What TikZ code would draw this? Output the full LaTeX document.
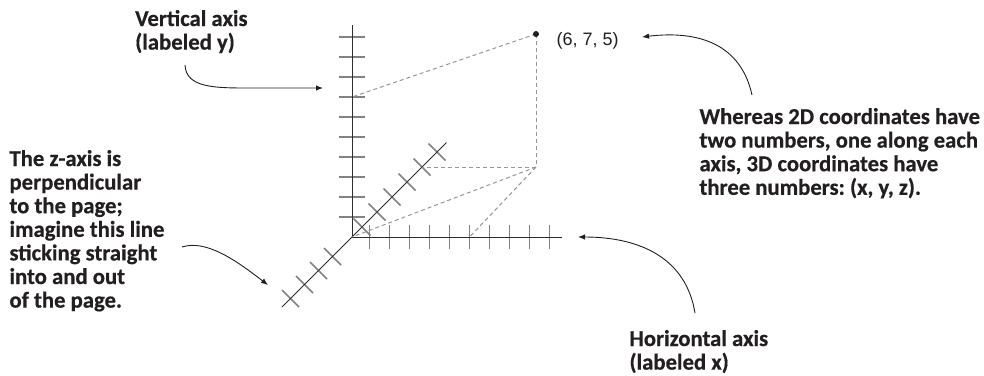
\documentclass[tikz,border=0pt]{standalone}
\usepackage{fontspec}
\setmainfont{Carlito}[BoldFeatures={FakeBold=0.5}]
\newfontfamily\coordfont{Liberation Sans}
\usetikzlibrary{arrows.meta}
\definecolor{ink}{RGB}{35,31,32}
\definecolor{axisc}{RGB}{45,45,45}
\definecolor{tickc}{RGB}{130,130,130}
\definecolor{dashc}{RGB}{150,150,150}
\frenchspacing
\newcommand{\blocktext}[1]{\parbox[t]{320bp}{\raggedright\fontsize{22.7bp}{23.6bp}\selectfont\bfseries #1}}
\begin{document}
\begin{tikzpicture}[x=1bp,y=-1bp,
  axisline/.style={draw=axisc, line width=1bp},
  tickline/.style={draw=tickc, line width=1.6bp},
  guide/.style={draw=dashc, line width=1bp, dash pattern=on 4bp off 3bp},
  callout/.style={draw=ink, line width=0.9bp, -{Latex[length=7bp,width=5.5bp]}},
  note/.style={anchor=base west, inner sep=0pt, text=ink}]
\useasboundingbox (0,0) rectangle (984,375);

% axis points
\coordinate (O) at (352,237);
\coordinate (ytop) at (352,25);
\coordinate (xend) at (562,237);
\coordinate (zlo) at (282,307);
\coordinate (zhi) at (446.5,142.5);

% ticks
\foreach \k in {1,...,10} {
  \draw[tickline] (339,{237-20*\k}) -- (365,{237-20*\k});
}
\foreach \k in {0,...,9} {
  \draw[tickline] ({369.5+20*\k},225) -- ({369.5+20*\k},249);
}
\foreach \t in {10,25,40,55,70,85,-19.5,-33.5,-47.5,-61.5} {
  \draw[tickline] ({352+\t-8.5},{237-\t-8.5}) -- ({352+\t+8.5},{237-\t+8.5});
}

% axes
\draw[axisline] (O) -- (ytop);
\draw[axisline] (O) -- (xend);
\draw[axisline] (zlo) -- (zhi);

% point and guides
\coordinate (Q) at (536,167);
\coordinate (y7) at (352,97);
\coordinate (z5) at (422,167);
\coordinate (x6) at (469.5,237);
\coordinate (Pc) at (536,34);
\draw[guide] (Pc) -- (y7);
\draw[guide] (Pc) -- (Q);
\draw[guide] (Q) -- (z5);
\draw[guide] (Q) -- (O);
\draw[guide] (Q) -- (x6);
\node[circle, fill=ink, inner sep=0pt, minimum size=6bp] (P) at (Pc) {};
\node[anchor=base west, inner sep=0pt, text=ink, font=\coordfont\fontsize{18bp}{20bp}\selectfont] (L) at (556.5,45) {(6, 7, 5)};

% notes
\node[note] (ty) at (135,26) {\blocktext{Vertical axis\\(labeled y)}};
\node[note] (tz) at (9.3,166) {\blocktext{The z-axis is\\perpendicular\\to the page;\\imagine this line\\sticking straight\\into and out\\of the page.}};
\node[note] (tw) at (699.3,124) {\blocktext{Whereas 2D coordinates have\\two numbers, one along each\\axis, 3D coordinates have\\three numbers: (x, y, z).}};
\node[note] (tx) at (629.3,346) {\blocktext{Horizontal axis\\(labeled x)}};

% callouts
\coordinate (sY) at (185,65);
\coordinate (eY) at (323,88);
\coordinate (sZ) at (182,247);
\coordinate (eZ) at (268,285);
\coordinate (sW) at (752,95);
\coordinate (eW) at (642,37);
\coordinate (sX) at (695,313);
\coordinate (eX) at (578,237);
\draw[callout] (sY) .. controls (186,88) and (215,88) .. (250,88) -- (eY);
\draw[callout] (sZ) .. controls (207,239) and (238,262) .. (eZ);
\draw[callout] (sW) .. controls (741,45) and (700,30) .. (eW);
\draw[callout] (sX) .. controls (686,258) and (640,237) .. (eX);
\end{tikzpicture}
\end{document}
